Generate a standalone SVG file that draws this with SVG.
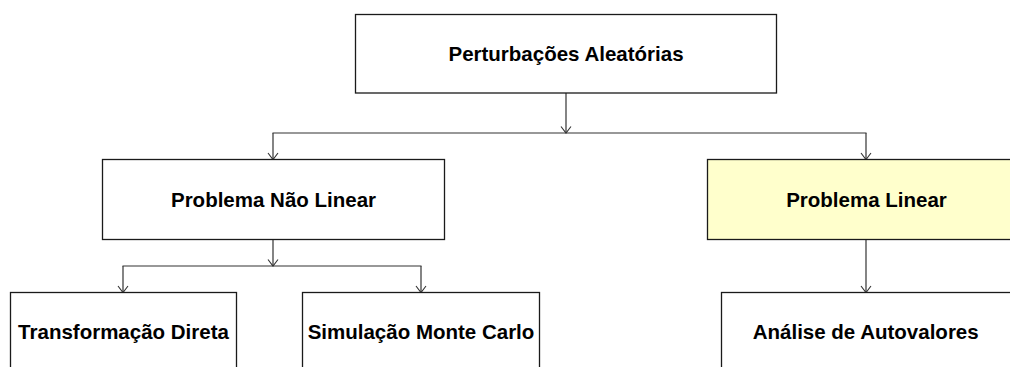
<svg xmlns="http://www.w3.org/2000/svg" width="1010" height="367" viewBox="0 0 1010 367">
<style>
.box{fill:#ffffff;stroke:#1a1a1a;stroke-width:1.3}
.hl{fill:#ffffcc}
.lbl{font-family:"Liberation Sans",Arial,sans-serif;font-weight:bold;font-size:20.5px;fill:#000;text-anchor:middle}
.con{fill:none;stroke:#333;stroke-width:1.2}
</style>
<defs>
<marker id="arr" markerUnits="userSpaceOnUse" markerWidth="12" markerHeight="10" viewBox="-6 -8 12 10" refX="0" refY="0" orient="0">
<path d="M-5,-6.5 L0,0 L5,-6.5" fill="none" stroke="#333" stroke-width="1.1"/>
</marker>
</defs>
<g id="connectors">
<line class="con" x1="566" y1="93" x2="566" y2="133" marker-end="url(#arr)"/>
<line class="con" x1="272.5" y1="133" x2="866.5" y2="133"/>
<line class="con" x1="273" y1="133" x2="273" y2="159.5" marker-end="url(#arr)"/>
<line class="con" x1="866" y1="133" x2="866" y2="159.5" marker-end="url(#arr)"/>
<line class="con" x1="273" y1="239.5" x2="273" y2="266" marker-end="url(#arr)"/>
<line class="con" x1="122.5" y1="266" x2="421.5" y2="266"/>
<line class="con" x1="123" y1="266" x2="123" y2="292.5" marker-end="url(#arr)"/>
<line class="con" x1="421" y1="266" x2="421" y2="292.5" marker-end="url(#arr)"/>
<line class="con" x1="866" y1="239.5" x2="866" y2="292.5" marker-end="url(#arr)"/>
</g>
<g id="n-perturbacoes">
<rect class="box" x="355.5" y="14.5" width="421" height="78.5"/>
<text class="lbl" x="566" y="60.7">Perturbações Aleatórias</text>
</g>
<g id="n-nao-linear">
<rect class="box" x="102.5" y="159.5" width="342" height="80"/>
<text class="lbl" x="273.5" y="206.5">Problema Não Linear</text>
</g>
<g id="n-linear">
<rect class="box hl" x="707.5" y="159.5" width="320" height="80"/>
<text class="lbl" x="866.5" y="206.5">Problema Linear</text>
</g>
<g id="n-transformacao">
<rect class="box" x="10.5" y="292.5" width="226" height="80"/>
<text class="lbl" x="123.5" y="339">Transformação Direta</text>
</g>
<g id="n-monte-carlo">
<rect class="box" x="302.5" y="292.5" width="237" height="80"/>
<text class="lbl" x="421" y="339">Simulação Monte Carlo</text>
</g>
<g id="n-autovalores">
<rect class="box" x="721.5" y="292.5" width="300" height="80"/>
<text class="lbl" x="865.7" y="339">Análise de Autovalores</text>
</g>
</svg>
